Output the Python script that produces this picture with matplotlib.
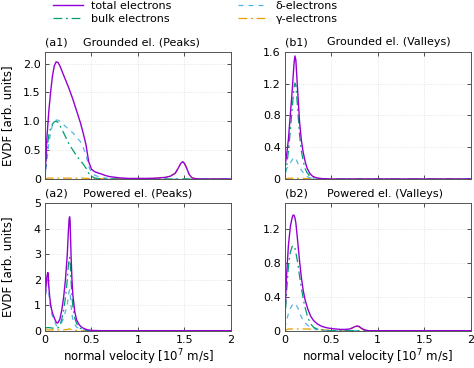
import matplotlib

matplotlib.use("Agg")
import matplotlib.pyplot as plt
from matplotlib.ticker import FixedLocator

# normal velocity [1e7 m/s] and EVDF values
a1_v = [0, 0.02, 0.04, 0.06, 0.08, 0.10, 0.12, 0.14, 0.16, 0.18, 0.20, 0.23, 0.26, 0.30, 0.34,
        0.38, 0.41, 0.44, 0.47, 0.50, 0.53, 0.56, 0.60, 0.65, 0.70, 0.80, 0.90, 1.00, 1.10, 1.20,
        1.30, 1.35, 1.40, 1.43, 1.46, 1.48, 1.50, 1.52, 1.55, 1.58, 1.62, 1.70, 2.00]
a1_total = [0, 0.70, 1.15, 1.50, 1.78, 1.96, 2.03, 2.02, 1.96, 1.88, 1.80, 1.68, 1.56, 1.38, 1.18,
            0.98, 0.80, 0.60, 0.30, 0.17, 0.13, 0.11, 0.09, 0.06, 0.04, 0.02, 0.01, 0.01, 0.01, 0.015,
            0.03, 0.05, 0.10, 0.18, 0.27, 0.30, 0.27, 0.20, 0.08, 0.02, 0.005, 0, 0]
a1_bulk = [0, 0.50, 0.75, 0.88, 0.95, 0.99, 1.00, 0.98, 0.93, 0.86, 0.80, 0.70, 0.60, 0.50, 0.40,
           0.32, 0.26, 0.19, 0.10, 0.05, 0.02, 0.01, 0.005, 0, 0, 0, 0, 0, 0, 0,
           0, 0, 0, 0, 0, 0, 0, 0, 0, 0, 0, 0, 0]
a1_delta = [0, 0.30, 0.60, 0.80, 0.93, 0.99, 1.02, 1.02, 1.00, 0.97, 0.94, 0.90, 0.85, 0.80, 0.72,
            0.65, 0.55, 0.42, 0.22, 0.11, 0.07, 0.05, 0.03, 0.015, 0.008, 0.003, 0, 0, 0, 0,
            0, 0, 0, 0, 0, 0, 0, 0, 0, 0, 0, 0, 0]
a1_gamma = [0, 0.01, 0.015, 0.015, 0.015, 0.015, 0.015, 0.015, 0.015, 0.015, 0.015, 0.015, 0.015, 0.015, 0.015,
            0.015, 0.015, 0.012, 0.01, 0.008, 0.006, 0.005, 0.005, 0.005, 0.005, 0.005, 0.005, 0.005, 0.008, 0.012,
            0.03, 0.05, 0.10, 0.18, 0.27, 0.30, 0.27, 0.20, 0.08, 0.02, 0.005, 0, 0]

b1_v = [0, 0.02, 0.04, 0.06, 0.08, 0.10, 0.11, 0.12, 0.14, 0.16, 0.18, 0.20, 0.22, 0.24, 0.27,
        0.30, 0.34, 0.40, 0.50, 0.70, 1.00, 1.50, 2.00]
b1_total = [0.13, 0.30, 0.50, 0.80, 1.10, 1.45, 1.55, 1.50, 1.10, 0.72, 0.48, 0.33, 0.22, 0.14, 0.07,
            0.035, 0.015, 0.005, 0, 0, 0, 0, 0]
b1_bulk = [0.02, 0.15, 0.35, 0.60, 0.88, 1.15, 1.21, 1.18, 0.88, 0.55, 0.35, 0.22, 0.13, 0.08, 0.035,
           0.015, 0.005, 0, 0, 0, 0, 0, 0]
b1_delta = [0.10, 0.13, 0.16, 0.20, 0.24, 0.27, 0.27, 0.26, 0.20, 0.15, 0.11, 0.08, 0.05, 0.03, 0.015,
            0.007, 0.002, 0, 0, 0, 0, 0, 0]
b1_gamma = [0, 0.005, 0.01, 0.01, 0.01, 0.01, 0.01, 0.01, 0.01, 0.01, 0.01, 0.008, 0.006, 0.005, 0.003,
            0.002, 0.001, 0, 0, 0, 0, 0, 0]

a2_v = [0, 0.01, 0.02, 0.03, 0.035, 0.04, 0.05, 0.06, 0.07, 0.08, 0.10, 0.12, 0.13, 0.14, 0.16,
        0.18, 0.20, 0.22, 0.24, 0.25, 0.26, 0.265, 0.27, 0.28, 0.29, 0.30, 0.32, 0.34, 0.37, 0.40,
        0.45, 0.50, 0.60, 1.00, 2.00]
a2_total = [1.2, 1.7, 2.1, 2.28, 2.25, 1.8, 1.35, 1.05, 0.85, 0.70, 0.50, 0.34, 0.30, 0.31, 0.45,
            0.80, 1.30, 2.00, 3.00, 3.80, 4.40, 4.47, 4.30, 3.00, 2.00, 1.40, 0.75, 0.42, 0.22, 0.12,
            0.04, 0.01, 0, 0, 0]
a2_bulk = [0.10, 0.11, 0.12, 0.12, 0.12, 0.12, 0.12, 0.11, 0.11, 0.10, 0.10, 0.10, 0.10, 0.11, 0.20,
           0.45, 0.80, 1.30, 2.00, 2.50, 2.80, 2.88, 2.75, 2.00, 1.35, 0.95, 0.50, 0.28, 0.12, 0.05,
           0.01, 0, 0, 0, 0]
a2_delta = [1.05, 1.55, 1.90, 2.05, 2.00, 1.60, 1.15, 0.88, 0.70, 0.56, 0.38, 0.22, 0.18, 0.18, 0.22,
            0.32, 0.48, 0.75, 1.00, 1.35, 1.55, 1.60, 1.50, 1.00, 0.65, 0.45, 0.25, 0.14, 0.08, 0.04,
            0.01, 0, 0, 0, 0]
a2_gamma = [0.02, 0.03, 0.03, 0.03, 0.03, 0.03, 0.03, 0.03, 0.03, 0.03, 0.03, 0.03, 0.03, 0.03, 0.03,
            0.03, 0.03, 0.04, 0.05, 0.06, 0.07, 0.07, 0.06, 0.05, 0.04, 0.03, 0.02, 0.01, 0.005, 0,
            0, 0, 0, 0, 0]

b2_v = [0, 0.02, 0.04, 0.06, 0.08, 0.09, 0.10, 0.11, 0.12, 0.14, 0.16, 0.18, 0.20, 0.22, 0.25,
        0.28, 0.31, 0.35, 0.40, 0.45, 0.50, 0.55, 0.60, 0.65, 0.70, 0.73, 0.76, 0.78, 0.80, 0.83,
        0.86, 0.90, 1.00, 2.00]
b2_total = [0.10, 0.65, 1.00, 1.22, 1.33, 1.36, 1.36, 1.33, 1.27, 1.05, 0.82, 0.62, 0.47, 0.36, 0.25,
            0.17, 0.12, 0.08, 0.05, 0.035, 0.025, 0.02, 0.015, 0.015, 0.02, 0.035, 0.05, 0.055, 0.05, 0.025,
            0.01, 0, 0, 0]
b2_bulk = [0.05, 0.45, 0.75, 0.92, 0.99, 1.00, 1.00, 0.97, 0.92, 0.80, 0.64, 0.50, 0.37, 0.27, 0.15,
           0.08, 0.04, 0.02, 0.01, 0, 0, 0, 0, 0, 0, 0, 0, 0, 0, 0,
           0, 0, 0, 0]
b2_delta = [0.03, 0.12, 0.20, 0.26, 0.30, 0.31, 0.32, 0.32, 0.31, 0.27, 0.21, 0.16, 0.12, 0.09, 0.06,
            0.04, 0.025, 0.015, 0.005, 0, 0, 0, 0, 0, 0, 0, 0, 0, 0, 0,
            0, 0, 0, 0]
b2_gamma = [0, 0.01, 0.02, 0.02, 0.02, 0.02, 0.02, 0.02, 0.02, 0.02, 0.02, 0.02, 0.02, 0.02, 0.02,
            0.018, 0.015, 0.012, 0.01, 0.008, 0.006, 0.005, 0.005, 0.008, 0.015, 0.03, 0.047, 0.052, 0.045, 0.02,
            0.005, 0, 0, 0]

x_ticks = [0, 0.5, 1, 1.5, 2]
x_tick_labels = ["0", "0.5", "1", "1.5", "2"]

series_labels = ["total electrons", "bulk electrons", "\u03b4-electrons", "\u03b3-electrons"]
series_colors = ["#9400d3", "#009e73", "#56b4e9", "#e69f00"]
series_styles = ["-", (0, (7, 3, 1.5, 3)), (0, (4, 4)), (0, (7, 3, 1.5, 3))]

panels = [
    dict(tag="(a1)", title="Grounded el. (Peaks)", v=a1_v,
         data=[a1_total, a1_bulk, a1_delta, a1_gamma], ylim=2.2,
         yticks=[0, 0.5, 1.0, 1.5, 2.0], ylabels=["0", "0.5", "1.0", "1.5", "2.0"],
         rect=[0.0949, 0.5136, 0.3924, 0.3451], title_x=0.205),
    dict(tag="(b1)", title="Grounded el. (Valleys)", v=b1_v,
         data=[b1_total, b1_bulk, b1_delta, b1_gamma], ylim=1.6,
         yticks=[0, 0.4, 0.8, 1.2, 1.6], ylabels=["0", "0.4", "0.8", "1.2", "1.6"],
         rect=[0.6006, 0.5136, 0.3924, 0.3451], title_x=0.225),
    dict(tag="(a2)", title="Powered el. (Peaks)", v=a2_v,
         data=[a2_total, a2_bulk, a2_delta, a2_gamma], ylim=5,
         yticks=[0, 1, 2, 3, 4, 5], ylabels=["0", "1", "2", "3", "4", "5"],
         rect=[0.0949, 0.1014, 0.3924, 0.3462], title_x=0.205),
    dict(tag="(b2)", title="Powered el. (Valleys)", v=b2_v,
         data=[b2_total, b2_bulk, b2_delta, b2_gamma], ylim=1.5,
         yticks=[0, 0.4, 0.8, 1.2], ylabels=["0", "0.4", "0.8", "1.2"],
         rect=[0.6006, 0.1014, 0.3924, 0.3462], title_x=0.225),
]

plt.rcParams["font.family"] = ["DejaVu Sans"]
plt.rcParams["font.size"] = 8

fig = plt.figure(figsize=(4.74, 3.68), dpi=100)

handles = []
for idx, p in enumerate(panels):
    ax = fig.add_axes(p["rect"])
    lines = []
    # draw minor series first so the total curve stays on top
    for k in [3, 2, 1, 0]:
        (ln,) = ax.plot(p["v"], p["data"][k], color=series_colors[k], linestyle=series_styles[k],
                        linewidth=1.0 if k == 0 else 0.9, label=series_labels[k])
        lines.append(ln)
    if idx == 0:
        handles = lines[::-1]

    ax.set_xlim(0, 2)
    ax.set_ylim(0, p["ylim"])
    ax.xaxis.set_major_locator(FixedLocator(x_ticks))
    ax.yaxis.set_major_locator(FixedLocator(p["yticks"]))
    ax.set_yticklabels(p["ylabels"])
    if idx >= 2:
        ax.set_xticklabels(x_tick_labels)
        ax.set_xlabel("normal velocity [10$^7$ m/s]", fontsize=8.5, labelpad=2)
    else:
        ax.set_xticklabels([])
    if idx % 2 == 0:
        ax.set_ylabel("EVDF [arb. units]", fontsize=8.5)
        ax.yaxis.set_label_coords(-0.165, 0.5)

    ax.tick_params(direction="in", top=True, right=True, length=3, width=0.6, pad=3,
                   colors="#333333", labelcolor="black")
    for spine in ax.spines.values():
        spine.set_color("#555555")
        spine.set_linewidth(0.7)
    ax.grid(True, color="#dddddd", linestyle=":", linewidth=0.6)
    ax.set_axisbelow(True)

    ax.annotate(p["tag"], xy=(0, 1), xycoords="axes fraction", xytext=(0, 7), textcoords="offset points",
                ha="left", va="center")
    ax.annotate(p["title"], xy=(p["title_x"], 1), xycoords="axes fraction", xytext=(0, 7),
                textcoords="offset points", ha="left", va="center")

fig.legend(handles, series_labels, loc="upper left", bbox_to_anchor=(0.112, 0.997), ncol=2,
           frameon=False, borderpad=0, borderaxespad=0, handlelength=2.7, handletextpad=0.7,
           columnspacing=6.0, labelspacing=0.22, fontsize=8)

fig.savefig("out.png", dpi=100)
